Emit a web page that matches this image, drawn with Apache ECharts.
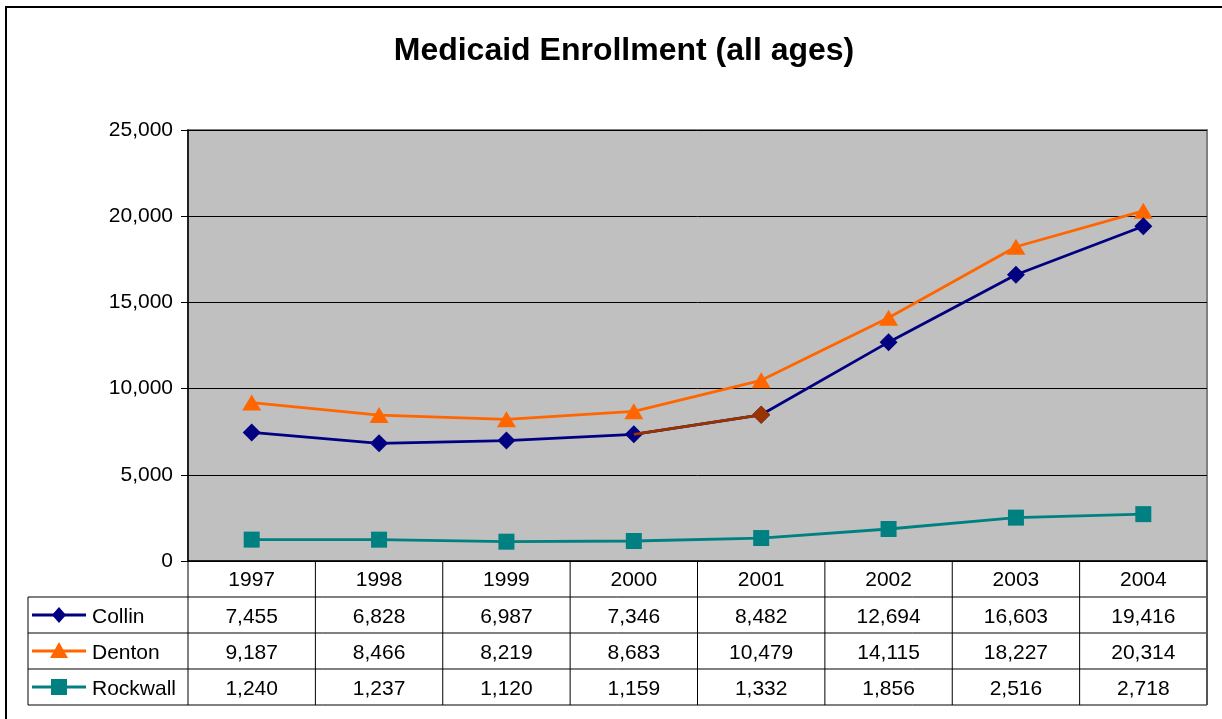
<!DOCTYPE html>
<html><head><meta charset="utf-8">
<script src="https://cdn.jsdelivr.net/npm/echarts@6/dist/echarts.min.js"></script>
<style>html,body{margin:0;padding:0;background:#fff}#c{width:1222px;height:719px}</style>
</head><body><div id="c"></div>
<script>
const titleText = 'Medicaid Enrollment (all ages)';
const years = ['1997', '1998', '1999', '2000', '2001', '2002', '2003', '2004'];
const collin = [7455, 6828, 6987, 7346, 8482, 12694, 16603, 19416];
const denton = [9187, 8466, 8219, 8683, 10479, 14115, 18227, 20314];
const rockwall = [1240, 1237, 1120, 1159, 1332, 1856, 2516, 2718];
const seriesNames = ['Collin', 'Denton', 'Rockwall'];
const yMin = 0, yMax = 25000, yStep = 5000;

const FONT = "'Liberation Sans', Arial, sans-serif";
const C_COLLIN = '#000080', C_DENTON = '#FF6600', C_ROCK = '#008080', C_BROWN = '#993300';
const fmt = v => v.toLocaleString('en-US');

const chart = echarts.init(document.getElementById('c'), null, {renderer: 'canvas'});

const option = {
  animation: false,
  backgroundColor: '#ffffff',
  title: {
    text: titleText, left: 619, top: 30, textAlign: 'center',
    textStyle: {fontFamily: FONT, fontSize: 32, fontWeight: 'bold', color: '#000'}
  },
  grid: {
    left: 188, right: 15, top: 130, bottom: 158, show: true,
    backgroundColor: '#C0C0C0', borderColor: '#808080', borderWidth: 2
  },
  xAxis: {
    type: 'category', data: years, boundaryGap: true,
    axisLine: {show: true, lineStyle: {color: '#000', width: 1.5}},
    axisTick: {show: false}, axisLabel: {show: false}, splitLine: {show: false}
  },
  yAxis: {
    type: 'value', min: yMin, max: yMax, interval: yStep,
    axisLine: {show: true, lineStyle: {color: '#000', width: 1.5}},
    axisTick: {show: true, length: 7, lineStyle: {color: '#000'}},
    axisLabel: {fontFamily: FONT, fontSize: 21, color: '#000', margin: 15, formatter: v => fmt(v)},
    splitLine: {show: true, lineStyle: {color: '#000', width: 1}}
  },
  series: [
    {name: seriesNames[0], type: 'line', data: collin, symbol: 'diamond', symbolSize: 18,
     lineStyle: {color: C_COLLIN, width: 2.8}, itemStyle: {color: C_COLLIN}, z: 3},
    {name: seriesNames[1], type: 'line', data: denton, symbol: 'triangle', symbolSize: [19, 16],
     lineStyle: {color: C_DENTON, width: 2.8}, itemStyle: {color: C_DENTON}, z: 2},
    {name: seriesNames[2], type: 'line', data: rockwall, symbol: 'rect', symbolSize: 16,
     lineStyle: {color: C_ROCK, width: 2.8}, itemStyle: {color: C_ROCK}, z: 2},
    {name: 'Collin-highlight', type: 'line', z: 4, connectNulls: false,
     data: collin.map((v, i) => i === 3 ? {value: v, symbol: 'none'} : (i === 4 ? {value: v} : null)),
     symbol: 'diamond', symbolSize: 18,
     lineStyle: {color: C_BROWN, width: 2.8}, itemStyle: {color: C_BROWN}}
  ]
};
chart.setOption(option);

// Data table beneath the plot, positioned from the axis scales
const xs = years.map((_, i) => chart.convertToPixel({xAxisIndex: 0}, i));
const y0 = chart.convertToPixel({yAxisIndex: 0}, yMin);
const band = xs[1] - xs[0];
const tLeft = xs[0] - band / 2, tRight = xs[xs.length - 1] + band / 2;
const legLeft = 28, rowH = 36;
const g = [];
const lineS = {stroke: '#000', lineWidth: 1};
// outer chart frame
g.push({type: 'rect', shape: {x: 6, y: 7, width: 1400, height: 900}, style: {fill: 'none', stroke: '#000', lineWidth: 2}, silent: true});
// horizontal lines
for (let r = 1; r <= 4; r++) {
  g.push({type: 'line', shape: {x1: legLeft, y1: y0 + rowH * r, x2: tRight, y2: y0 + rowH * r}, style: lineS});
}
// vertical lines
g.push({type: 'line', shape: {x1: legLeft, y1: y0 + rowH, x2: legLeft, y2: y0 + rowH * 4}, style: lineS});
for (let k = 0; k <= years.length; k++) {
  const x = tLeft + band * k;
  g.push({type: 'line', shape: {x1: x, y1: y0, x2: x, y2: y0 + rowH * 4},
    style: {stroke: k === years.length ? '#555' : '#000', lineWidth: k === years.length ? 2 : 1}});
}
const txt = (x, y, s, align) => ({type: 'text', x: x, y: y,
  style: {text: s, fontFamily: FONT, fontSize: 21, fill: '#000', align: align || 'center', verticalAlign: 'middle'}});
years.forEach((yr, i) => g.push(txt(xs[i], y0 + rowH / 2 + 1, yr)));
const rows = [collin, denton, rockwall];
const colors = [C_COLLIN, C_DENTON, C_ROCK];
rows.forEach((arr, r) => {
  const cy = y0 + rowH * (r + 1) + rowH / 2 + 2;
  arr.forEach((v, i) => g.push(txt(xs[i], cy, fmt(v))));
  // legend key
  g.push({type: 'line', shape: {x1: 32, y1: cy - 2, x2: 86, y2: cy - 2}, style: {stroke: colors[r], lineWidth: 2.8}});
  const mx = 59, my = cy - 2;
  if (r === 0) g.push({type: 'polygon', shape: {points: [[mx, my - 8], [mx + 7, my], [mx, my + 8], [mx - 7, my]]}, style: {fill: colors[r]}});
  if (r === 1) g.push({type: 'polygon', shape: {points: [[mx, my - 9], [mx + 9, my + 7], [mx - 9, my + 7]]}, style: {fill: colors[r]}});
  if (r === 2) g.push({type: 'rect', shape: {x: mx - 8, y: my - 8, width: 16, height: 16}, style: {fill: colors[r]}});
  g.push(txt(92, cy, seriesNames[r], 'left'));
});
chart.setOption({graphic: {elements: g}});
</script></body></html>
